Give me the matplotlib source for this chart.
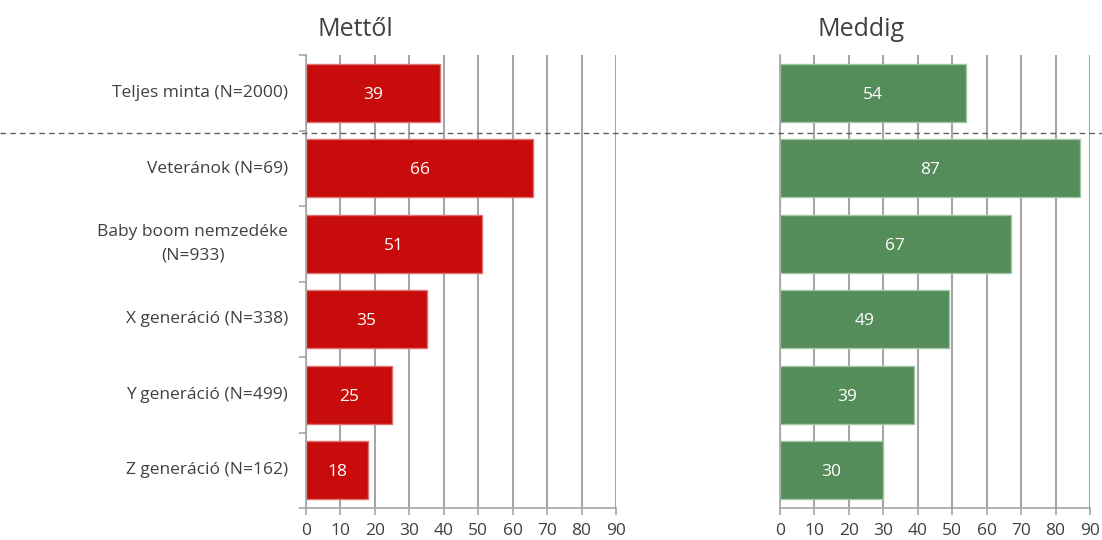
import matplotlib
matplotlib.use("Agg")
import matplotlib.pyplot as plt
import numpy as np
from matplotlib.lines import Line2D

# data
categories = ["Teljes minta (N=2000)", "Veteránok (N=69)", "Baby boom nemzedéke\n(N=933)",
              "X generáció (N=338)", "Y generáció (N=499)", "Z generáció (N=162)"]
mettol = [39, 66, 51, 35, 25, 18]
meddig = [54, 87, 67, 49, 39, 30]
titles = ["Mettől", "Meddig"]
xticks = list(range(0, 100, 10))

# style
plt.rcParams['font.family'] = ['Open Sans', 'DejaVu Sans']
text_color = "#404040"
grid_color = "#A6A6A6"
colors = ["#C80C0C", "#548C5A"]
edge_colors = ["#E07070", "#A0C8A4"]

fig = plt.figure(figsize=(11.02, 5.4), dpi=100)
ax1 = fig.add_axes([306/1102, 32/540, 310/1102, 453/540])
ax2 = fig.add_axes([780/1102, 32/540, 310/1102, 453/540])

y = np.arange(len(categories))

for i, (ax, vals) in enumerate(zip([ax1, ax2], [mettol, meddig])):
    ax.set_axisbelow(True)
    ax.grid(True, axis='x', color=grid_color, linewidth=1.5)
    bars = ax.barh(y, vals, height=0.77, color=colors[i], edgecolor=edge_colors[i], linewidth=1.0)
    for b, v in zip(bars, vals):
        ax.text(v / 2, b.get_y() + b.get_height() / 2, str(v), ha='center', va='center_baseline',
                color='white', fontsize=12.5)
    ax.set_xlim(0, 90)
    ax.set_ylim(len(categories) - 0.5, -0.5)
    ax.set_xticks(xticks)
    ax.tick_params(axis='x', colors=grid_color, labelcolor=text_color, labelsize=12.5,
                   length=5, width=1.2, direction='out', pad=6)
    for s in ['top', 'right']:
        ax.spines[s].set_visible(False)
    ax.spines['bottom'].set_color(grid_color)
    ax.spines['bottom'].set_linewidth(1.2)
    ax.spines['left'].set_color(grid_color)
    ax.spines['left'].set_linewidth(1.2)
    # category boundary ticks on y axis
    ax.set_yticks(np.arange(len(categories) + 1) - 0.5)
    ax.set_yticklabels([])
    ax.tick_params(axis='y', colors=grid_color, length=5 if i == 0 else 0, width=1.2)

# category labels on the left panel
for yy, lab in zip(y, categories):
    ax1.text(-5.2, yy, lab, ha='right', va='center', multialignment='center',
             color=text_color, fontsize=12.5, linespacing=1.65)

# titles
fig.text(318/1102, 1 - 30/540, titles[0], ha='left', va='center', fontsize=18, color=text_color)
fig.text(817/1102, 1 - 30/540, titles[1], ha='left', va='center', fontsize=18, color=text_color)

# dashed separator across the figure
fig.add_artist(Line2D([0, 1], [1 - 133/540, 1 - 133/540], transform=fig.transFigure,
                      color="#606060", linestyle=(0, (4, 3)), linewidth=1.0))

fig.savefig("out.png", dpi=100)
